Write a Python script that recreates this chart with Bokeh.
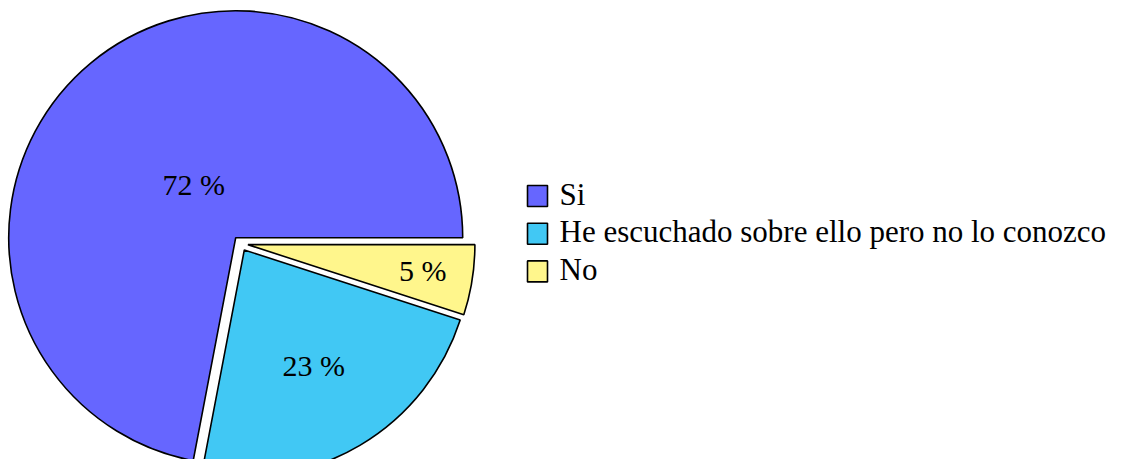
import math
from bokeh.plotting import figure
from bokeh.models import Range1d, ColumnDataSource
from bokeh.core.properties import value
from bokeh.embed import file_html
from bokeh.resources import INLINE

categories = ["Si", "He escuchado sobre ello pero no lo conozco", "No"]
percents = [72, 23, 5]
colors = ["#6666ff", "#41c8f4", "#fff68c"]
label_texts = ["72 %", "23 %", "5 %"]

# layout (page pixel based)
W, H = 1113, 459
CX, CY = 240, 243          # pie centre (page px)
R = 227
EXPLODE = 7.5
LABEL_FRAC = [0.29, 0.60, 0.78]
FONT = "Liberation Serif"

p = figure(width=W, height=H, output_backend="svg", toolbar_location=None,
           x_range=Range1d(0, W), y_range=Range1d(-H, 0),
           min_border=0, outline_line_color=None)
p.axis.visible = False
p.grid.visible = False
p.background_fill_color = "white"
p.border_fill_color = "white"

total = sum(percents)
starts, ends, xs, ys, lx, ly = [], [], [], [], [], []
acc = 0.0
for i, v in enumerate(percents):
    a0 = 2 * math.pi * acc / total
    acc += v
    a1 = 2 * math.pi * acc / total
    mid = (a0 + a1) / 2
    x = CX + EXPLODE * math.cos(mid)
    y = -CY + EXPLODE * math.sin(mid)
    starts.append(a0); ends.append(a1); xs.append(x); ys.append(y)
    lx.append(x + LABEL_FRAC[i] * R * math.cos(mid))
    ly.append(y + LABEL_FRAC[i] * R * math.sin(mid) + 2)

src = ColumnDataSource(dict(x=xs, y=ys, start=starts, end=ends, color=colors,
                            lx=lx, ly=ly, lab=label_texts))
p.wedge(x="x", y="y", radius=R, start_angle="start", end_angle="end",
        direction="anticlock", fill_color="color", line_color="black",
        line_width=1.6, source=src)
p.text(x="lx", y="ly", text="lab", text_align="center", text_baseline="middle",
       text_font=value(FONT), text_font_size="30px", text_color="black", source=src)

# legend
LX_BOX, LX_TXT, LY0, LSTEP = 537, 559, 195.5, 37.7
leg = ColumnDataSource(dict(
    bx=[LX_BOX] * len(categories),
    by=[-(LY0 + i * LSTEP) for i in range(len(categories))],
    ty=[-(LY0 + i * LSTEP - 2) for i in range(len(categories))],
    tx=[LX_TXT] * len(categories),
    name=categories, color=colors))
p.rect(x="bx", y="by", width=20, height=21, width_units="screen", height_units="screen",
       fill_color="color", line_color="black", line_width=1.6, source=leg)
p.text(x="tx", y="ty", text="name", text_align="left", text_baseline="middle",
       text_font=value(FONT), text_font_size="31px", text_color="black", source=leg)

open("out.html", "w").write(file_html(p, INLINE))
